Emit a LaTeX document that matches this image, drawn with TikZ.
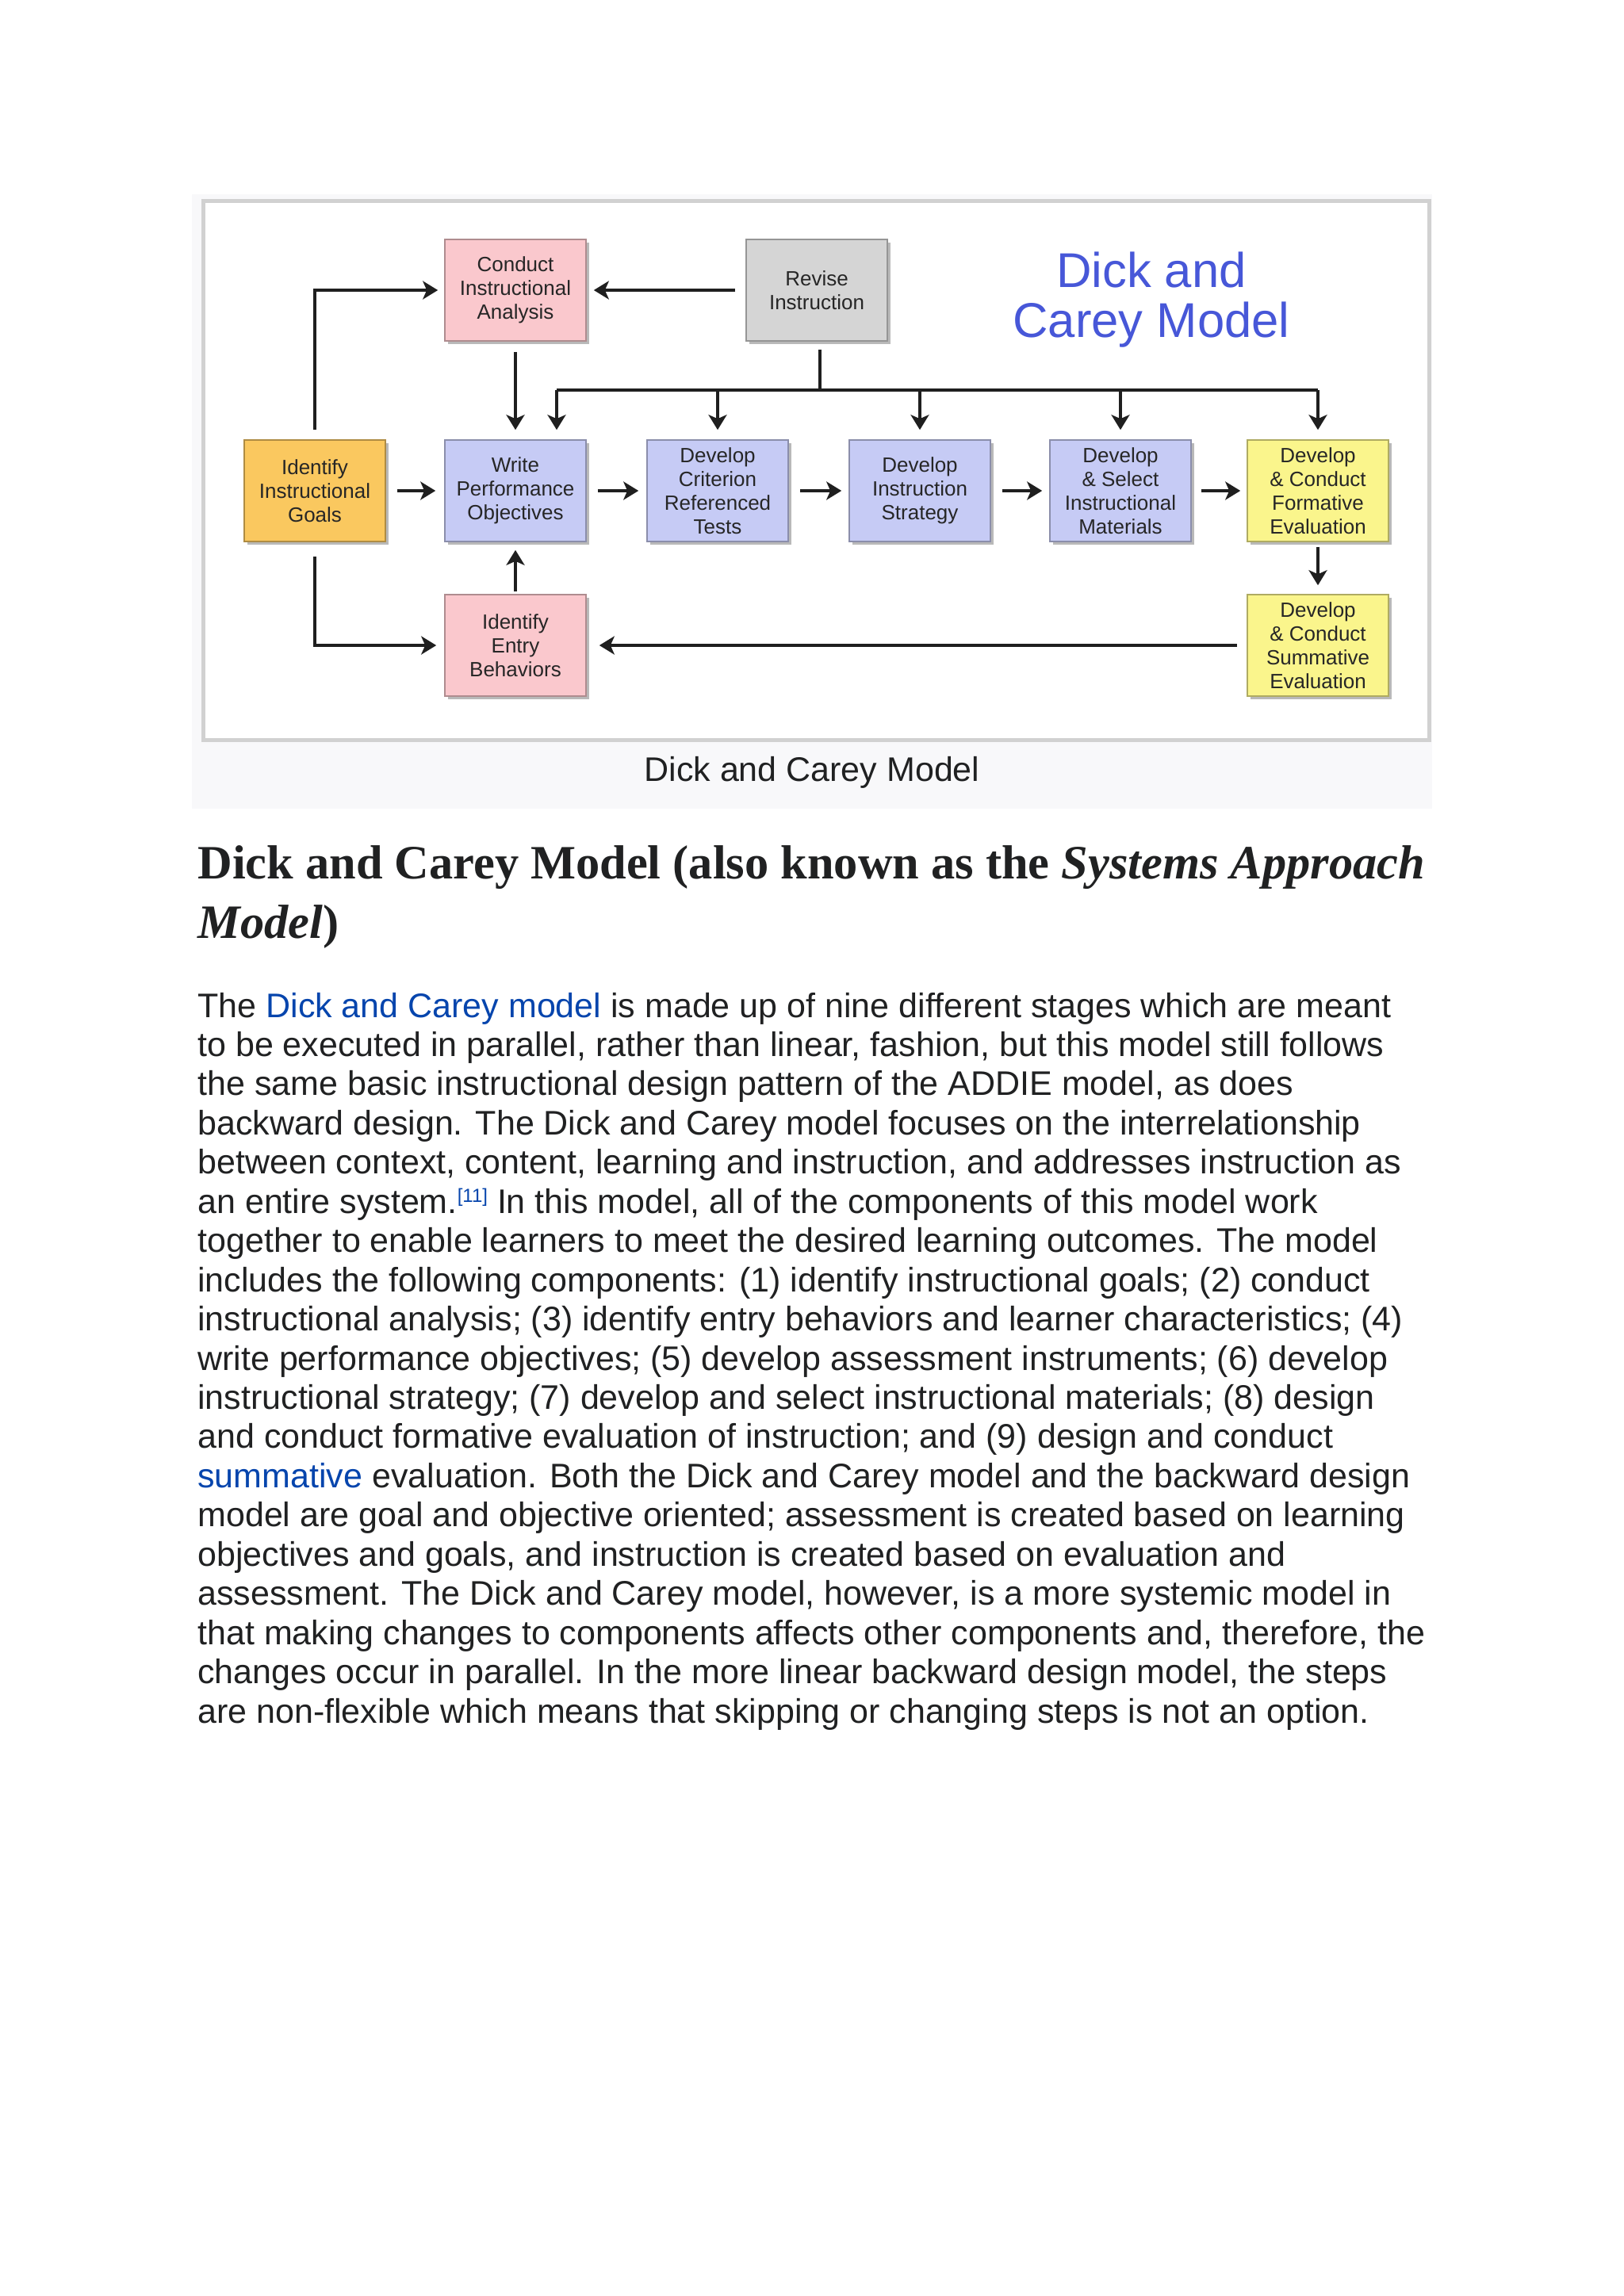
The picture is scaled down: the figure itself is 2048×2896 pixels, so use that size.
\documentclass[tikz,border=0pt]{standalone}
\usepackage{fontspec}
\setmainfont{Liberation Sans}
\newfontfamily\headserif{Liberation Serif}
\usetikzlibrary{arrows.meta,shadows,calc}
\definecolor{pinkbox}{HTML}{FAC8CD}
\definecolor{graybox}{HTML}{D5D5D5}
\definecolor{orangebox}{HTML}{FAC85F}
\definecolor{lavbox}{HTML}{C6CBF5}
\definecolor{yellowbox}{HTML}{FAF58C}
\definecolor{titleblue}{HTML}{4757D8}
\definecolor{linkblue}{HTML}{0645AD}
\definecolor{bodytext}{HTML}{202122}
\definecolor{thumbbg}{HTML}{F8F8FA}
\begin{document}
\begin{tikzpicture}[x=0.5pt,y=-0.5pt,
  box/.style={rectangle, fill=#1, draw=#1!70!black, line width=0.8pt,
    minimum width=89pt, minimum height=64pt, inner sep=1pt, align=center,
    font=\fontsize{13}{15}\selectfont, text=black!85,
    drop shadow={shadow xshift=1.8pt, shadow yshift=-2pt, fill=black!50, opacity=0.55}},
  arr/.style={draw=black!88, line width=1.8pt, -{Stealth[length=9.5pt,width=11.5pt,inset=2.5pt]}},
  plain/.style={draw=black!88, line width=1.8pt},
  bodyline/.style={anchor=base west, inner sep=0pt, text=bodytext,
    font=\fontsize{21.5}{24}\selectfont},
  headline/.style={anchor=base west, inner sep=0pt, text=bodytext,
    font=\headserif\bfseries\fontsize{30.2}{34}\selectfont},
  titleline/.style={anchor=base, inner sep=0pt, text=titleblue,
    font=\fontsize{30.8}{33}\selectfont}
]
\useasboundingbox (0,0) rectangle (2048,2896);
\fill[white] (0,0) rectangle (2048,2896);

% figure container and frame
\fill[thumbbg] (242,245) rectangle (1806,1020);
\filldraw[fill=white, draw=black!18, line width=2.5pt] (256,253) rectangle (1802,933);

% boxes
\node[box=pinkbox]   (CIA)  at (650,366)  {Conduct\\Instructional\\Analysis};
\node[box=graybox]   (RI)   at (1030,366) {Revise\\Instruction};
\node[box=orangebox] (IIG)  at (397,619)  {Identify\\Instructional\\Goals};
\node[box=lavbox]    (WPO)  at (650,619)  {Write\\Performance\\Objectives};
\node[box=lavbox]    (DCRT) at (905,619)  {Develop\\Criterion\\Referenced\\Tests};
\node[box=lavbox]    (DIS)  at (1160,619) {Develop\\Instruction\\Strategy};
\node[box=lavbox]    (DSIM) at (1413,619) {Develop\\\& Select\\Instructional\\Materials};
\node[box=yellowbox] (DCFE) at (1662,619) {Develop\\\& Conduct\\Formative\\Evaluation};
\node[box=pinkbox]   (IEB)  at (650,814)  {Identify\\Entry\\Behaviors};
\node[box=yellowbox] (DCSE) at (1662,814) {Develop\\\& Conduct\\Summative\\Evaluation};

% title
\node[titleline] (T1) at (1452,362) {Dick and};
\node[titleline] (T2) at (1452,425) {Carey Model};

% connectors
\draw[arr] ($(IIG.north)+(0,-12)$) |- ($(CIA.west)+(-8,0)$);
\draw[arr] ($(IIG.south)+(0,18)$) |- ($(IEB.west)+(-10,0)$);
\draw[arr] ($(IIG.east)+(14,0)$) -- ($(WPO.west)+(-11,0)$);
\draw[arr] ($(WPO.east)+(14,0)$) -- ($(DCRT.west)+(-10,0)$);
\draw[arr] ($(DCRT.east)+(14,0)$) -- ($(DIS.west)+(-9,0)$);
\draw[arr] ($(DIS.east)+(14,0)$) -- ($(DSIM.west)+(-9,0)$);
\draw[arr] ($(DSIM.east)+(12,0)$) -- ($(DCFE.west)+(-8,0)$);
\draw[arr] ($(CIA.south)+(0,13)$) -- ($(CIA.south |- WPO.north)+(0,-12)$);
\draw[arr] ($(RI.west)+(-13,0)$) -- ($(CIA.east)+(9,0)$);
\coordinate (busL) at (702,492);
\coordinate (busR) at (1662,492);
\coordinate (riB) at ($(RI.south)+(4,10)$);
\draw[plain] (riB) -- (riB |- busL);
\draw[plain] (busL) -- (busR);
\draw[arr] (busL) -- ($(busL |- WPO.north)+(0,-12)$);
\draw[arr] (DCRT.north |- busL) -- ($(DCRT.north)+(0,-12)$);
\draw[arr] (DIS.north |- busL) -- ($(DIS.north)+(0,-12)$);
\draw[arr] (DSIM.north |- busL) -- ($(DSIM.north)+(0,-12)$);
\draw[arr] (busR) -- ($(DCFE.north)+(0,-12)$);
\draw[arr] ($(DCFE.south)+(0,6)$) -- ($(DCSE.north)+(0,-11)$);
\draw[arr] ($(DCSE.west)+(-12,0)$) -- ($(IEB.east)+(16,0)$);
\draw[arr] ($(IEB.north)+(0,-3)$) -- ($(WPO.south)+(0,10)$);

% caption
\node[anchor=base, inner sep=0pt, text=bodytext, font=\fontsize{21.5}{24}\selectfont] (cap) at (1024,985) {Dick and Carey Model};

% heading
\node[headline] (h1) at (249,1108) {Dick and Carey Model (also known as the \textit{Systems Approach}};
\node[headline] (h2) at (249,1183) {\textit{Model})};

% body
\node[bodyline] (b1)  at (249,1283)    {The \textcolor{linkblue}{Dick and Carey model} is made up of nine different stages which are meant};
\node[bodyline] (b2)  at (249,1332.45) {to be executed in parallel, rather than linear, fashion, but this model still follows};
\node[bodyline] (b3)  at (249,1381.9)  {the same basic instructional design pattern of the ADDIE model, as does};
\node[bodyline] (b4)  at (249,1431.35) {backward design. The Dick and Carey model focuses on the interrelationship};
\node[bodyline] (b5)  at (249,1480.8)  {between context, content, learning and instruction, and addresses instruction as};
\node[bodyline] (b6)  at (249,1530.25) {an entire system.\raisebox{7pt}{\fontsize{12}{12}\selectfont\color{linkblue}[11]} In this model, all of the components of this model work};
\node[bodyline] (b7)  at (249,1579.7)  {together to enable learners to meet the desired learning outcomes. The model};
\node[bodyline] (b8)  at (249,1629.15) {includes the following components: (1) identify instructional goals; (2) conduct};
\node[bodyline] (b9)  at (249,1678.6)  {instructional analysis; (3) identify entry behaviors and learner characteristics; (4)};
\node[bodyline] (b10) at (249,1728.05) {write performance objectives; (5) develop assessment instruments; (6) develop};
\node[bodyline] (b11) at (249,1777.5)  {instructional strategy; (7) develop and select instructional materials; (8) design};
\node[bodyline] (b12) at (249,1826.95) {and conduct formative evaluation of instruction; and (9) design and conduct};
\node[bodyline] (b13) at (249,1876.4)  {\textcolor{linkblue}{summative} evaluation. Both the Dick and Carey model and the backward design};
\node[bodyline] (b14) at (249,1925.85) {model are goal and objective oriented; assessment is created based on learning};
\node[bodyline] (b15) at (249,1975.3)  {objectives and goals, and instruction is created based on evaluation and};
\node[bodyline] (b16) at (249,2024.75) {assessment. The Dick and Carey model, however, is a more systemic model in};
\node[bodyline] (b17) at (249,2074.2)  {that making changes to components affects other components and, therefore, the};
\node[bodyline] (b18) at (249,2123.65) {changes occur in parallel. In the more linear backward design model, the steps};
\node[bodyline] (b19) at (249,2173.1)  {are non-flexible which means that skipping or changing steps is not an option.};
\end{tikzpicture}
\end{document}
